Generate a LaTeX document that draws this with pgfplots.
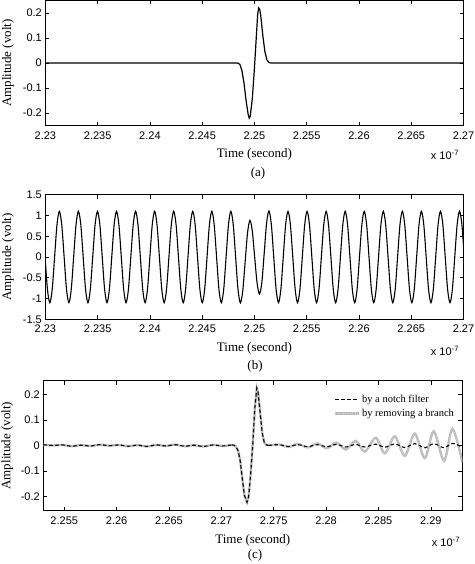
\documentclass[border=0pt]{standalone}
\usepackage{fontspec}
\setmainfont{Liberation Serif}
\newfontfamily\ticksfont{Liberation Sans}
\usepackage{pgfplots}
\pgfplotsset{compat=1.18}
\tikzset{
  greyline/.style={gray!55, line width=2.3pt},
  greytex/.style={white!75!gray, line width=0.7pt, dash pattern=on 0.8pt off 1.6pt},
  notch/.style={black, line width=1.1pt, dash pattern=on 3.5pt off 2.5pt},
}
\pgfplotsset{
  panel/.style={
    scale only axis, anchor=south west,
    tick label style={font=\fontsize{11}{11}\selectfont\ticksfont},
    /pgf/number format/assume math mode=true,
    scaled ticks=false,
    xticklabel style={/pgf/number format/.cd, fixed, precision=3, /tikz/.cd, yshift=-2.5pt},
    yticklabel style={/pgf/number format/.cd, fixed, precision=2},
    label style={font=\fontsize{13}{13}\selectfont},
    xlabel={Time (second)}, ylabel={Amplitude (volt)},
    xlabel style={anchor=center},
    ylabel style={anchor=center, rotate=0},
    axis line style={line width=0.6pt},
    tick style={line width=0.6pt, black},
    major tick length=4pt,
  },
}
\begin{document}
\begin{tikzpicture}
\useasboundingbox (0,0) rectangle (474pt,564pt);
% ---------------- (a)
\begin{axis}[panel, at={(45.4pt,438.3pt)}, width=418.1pt, height=125.3pt,
  xmin=2.23, xmax=2.27, ymin=-0.25, ymax=0.25,
  xtick={2.23,2.235,2.24,2.245,2.25,2.255,2.26,2.265,2.27},
  ytick={-0.2,-0.1,0,0.1,0.2},
  xlabel style={at={(axis description cs:0.5,-0.231)}},
  ylabel style={at={(axis description cs:-0.0895,0.5)}}]
\addplot[black, line width=1.2pt] coordinates {
(2.23,0)(2.2484,0)(2.2486,-0.005)(2.2488,-0.03)(2.2490,-0.08)(2.2492,-0.15)(2.2494,-0.205)(2.2495,-0.22)(2.2496,-0.212)(2.2498,-0.14)(2.2500,-0.02)(2.2502,0.12)(2.2503,0.19)(2.2504,0.22)(2.2505,0.215)(2.2506,0.19)(2.2508,0.11)(2.2510,0.045)(2.2512,0.012)(2.2514,0.002)(2.2516,0)(2.27,0)};
\end{axis}
\node[font=\fontsize{13}{13}\selectfont] at (258pt,391pt) {(a)};
\node[font=\fontsize{11}{11}\selectfont\ticksfont] at (445pt,409pt) {x 10\textsuperscript{-7}};
% ---------------- (b)
\begin{axis}[panel, at={(45.4pt,244.7pt)}, width=418.1pt, height=124.6pt,
  xmin=2.23, xmax=2.27, ymin=-1.5, ymax=1.5,
  xtick={2.23,2.235,2.24,2.245,2.25,2.255,2.26,2.265,2.27},
  ytick={-1.5,-1,-0.5,0,0.5,1,1.5},
  xticklabel style={yshift=1pt},
  xlabel style={at={(axis description cs:0.5,-0.230)}},
  ylabel style={at={(axis description cs:-0.0895,0.5)}}]
\addplot[black, line width=1.1pt, smooth] coordinates {
(2.229969,0)(2.230196,-0.778)(2.230424,-1.1)(2.230652,-0.778)
(2.230880,0)(2.231108,0.778)(2.231336,1.1)(2.231564,0.778)(2.231792,0)(2.232019,-0.778)(2.232247,-1.1)(2.232475,-0.778)
(2.232703,0)(2.232931,0.778)(2.233159,1.1)(2.233387,0.778)(2.233615,0)(2.233842,-0.778)(2.234070,-1.1)(2.234298,-0.778)
(2.234526,0)(2.234754,0.778)(2.234982,1.1)(2.235210,0.778)(2.235438,0)(2.235665,-0.778)(2.235893,-1.1)(2.236121,-0.778)
(2.236349,0)(2.236577,0.778)(2.236805,1.1)(2.237033,0.778)(2.237261,0)(2.237488,-0.778)(2.237716,-1.1)(2.237944,-0.778)
(2.238172,0)(2.238400,0.778)(2.238628,1.1)(2.238856,0.778)(2.239084,0)(2.239311,-0.778)(2.239539,-1.1)(2.239767,-0.778)
(2.239995,0)(2.240223,0.778)(2.240451,1.1)(2.240679,0.778)(2.240907,0)(2.241134,-0.778)(2.241362,-1.1)(2.241590,-0.778)
(2.241818,0)(2.242046,0.778)(2.242274,1.1)(2.242502,0.778)(2.242730,0)(2.242957,-0.778)(2.243185,-1.1)(2.243413,-0.778)
(2.243641,0)(2.243869,0.778)(2.244097,1.1)(2.244325,0.778)(2.244553,0)(2.244780,-0.778)(2.245008,-1.1)(2.245236,-0.778)
(2.245464,0)(2.245692,0.778)(2.245920,1.1)(2.246148,0.778)(2.246376,0)(2.246603,-0.778)(2.246831,-1.1)(2.247059,-0.778)
(2.247287,0)(2.247515,0.778)(2.247743,1.1)(2.247971,0.778)(2.248199,0)(2.248426,-0.78)(2.248654,-1.105)(2.248882,-0.813)
(2.249110,-0.118)(2.249338,0.578)(2.249566,0.882)(2.249794,0.628)(2.250022,-0.006)(2.250249,-0.618)(2.250477,-0.89)(2.250705,-0.618)
(2.250933,0.09)(2.251161,0.813)(2.251389,1.11)(2.251617,0.78)(2.251845,0)(2.252072,-0.778)(2.252300,-1.1)(2.252528,-0.778)
(2.252756,0)(2.252984,0.778)(2.253212,1.1)(2.253440,0.778)(2.253668,0)(2.253895,-0.778)(2.254123,-1.1)(2.254351,-0.778)
(2.254579,0)(2.254807,0.778)(2.255035,1.1)(2.255263,0.778)(2.255491,0)(2.255718,-0.778)(2.255946,-1.1)(2.256174,-0.778)
(2.256402,0)(2.256630,0.778)(2.256858,1.1)(2.257086,0.778)(2.257314,0)(2.257541,-0.778)(2.257769,-1.1)(2.257997,-0.778)
(2.258225,0)(2.258453,0.778)(2.258681,1.1)(2.258909,0.778)(2.259137,0)(2.259364,-0.778)(2.259592,-1.1)(2.259820,-0.778)
(2.260048,0)(2.260276,0.778)(2.260504,1.1)(2.260732,0.778)(2.260960,0)(2.261187,-0.778)(2.261415,-1.1)(2.261643,-0.778)
(2.261871,0)(2.262099,0.778)(2.262327,1.1)(2.262555,0.778)(2.262783,0)(2.263010,-0.778)(2.263238,-1.1)(2.263466,-0.778)
(2.263694,0)(2.263922,0.778)(2.264150,1.1)(2.264378,0.778)(2.264606,0)(2.264833,-0.778)(2.265061,-1.1)(2.265289,-0.778)
(2.265517,0)(2.265745,0.778)(2.265973,1.1)(2.266201,0.778)(2.266429,0)(2.266656,-0.778)(2.266884,-1.1)(2.267112,-0.778)
(2.267340,0)(2.267568,0.778)(2.267796,1.1)(2.268024,0.778)(2.268252,0)(2.268479,-0.778)(2.268707,-1.1)(2.268935,-0.778)
(2.269163,0)(2.269391,0.778)(2.269619,1.1)(2.269847,0.778)(2.270075,0)};
\end{axis}
\node[font=\fontsize{13}{13}\selectfont] at (255pt,198pt) {(b)};
\node[font=\fontsize{11}{11}\selectfont\ticksfont] at (445pt,213.3pt) {x 10\textsuperscript{-7}};
% ---------------- (c)
\begin{axis}[panel, at={(43.3pt,53.3pt)}, width=419pt, height=130pt,
  xmin=2.253, xmax=2.293, ymin=-0.255, ymax=0.255,
  xtick={2.255,2.26,2.265,2.27,2.275,2.28,2.285,2.29},
  ytick={-0.2,-0.1,0,0.1,0.2},
  xlabel style={at={(axis description cs:0.5,-0.228)}},
  ylabel style={at={(axis description cs:-0.086,0.5)}},
  legend image code/.code={\draw[#1] (0pt,0pt) -- (24pt,0pt);},
  legend style={at={(axis description cs:0.694,0.905)}, anchor=north west, draw=none, fill=none,
    inner sep=0pt, row sep=2.5pt, nodes={inner sep=1.5pt}, font=\fontsize{10.5}{12}\selectfont},
  legend cell align=left]
% grey: by removing a branch
\addplot[greyline, smooth, forget plot] coordinates {
(2.2530,0.004)(2.2539,0.001)(2.2548,0.003)(2.2557,-0.002)(2.2566,0.002)(2.2575,-0.001)(2.2584,0.004)(2.2593,0.000)(2.2602,0.003)(2.2611,-0.002)(2.2620,0.002)(2.2629,-0.003)(2.2638,0.003)(2.2647,-0.001)(2.2656,0.004)(2.2665,-0.002)(2.2674,0.002)(2.2683,-0.003)(2.2692,0.003)(2.2701,-0.001)(2.2710,0.003)};
\addplot[greyline, forget plot] coordinates {
(2.2710,0.003)(2.2712,0.002)(2.2714,-0.004)(2.2716,-0.02)(2.2718,-0.06)(2.2720,-0.13)(2.2722,-0.195)(2.27245,-0.222)(2.2726,-0.2)(2.2728,-0.11)(2.2730,0.01)(2.2732,0.15)(2.27338,0.226)(2.2735,0.21)(2.2737,0.13)(2.2739,0.05)(2.2741,0.012)(2.2743,0.003)(2.2745,0.001)};
\addplot[greyline, smooth, forget plot] coordinates {
(2.2745,0.001)(2.27548,0.005)(2.27644,-0.005)(2.27730,0.007)(2.27825,-0.007)(2.27916,0.009)(2.28007,-0.01)(2.28099,0.012)(2.28188,-0.015)(2.28283,0.019)(2.28369,-0.023)(2.28474,0.031)(2.28560,-0.030)(2.28655,0.037)(2.28751,-0.040)(2.28846,0.048)(2.28942,-0.049)(2.29027,0.057)(2.29126,-0.059)(2.29206,0.066)(2.29302,-0.066)};
\addplot[greytex, smooth, forget plot] coordinates {
(2.2745,0.001)(2.27548,0.005)(2.27644,-0.005)(2.27730,0.007)(2.27825,-0.007)(2.27916,0.009)(2.28007,-0.01)(2.28099,0.012)(2.28188,-0.015)(2.28283,0.019)(2.28369,-0.023)(2.28474,0.031)(2.28560,-0.030)(2.28655,0.037)(2.28751,-0.040)(2.28846,0.048)(2.28942,-0.049)(2.29027,0.057)(2.29126,-0.059)(2.29206,0.066)(2.29302,-0.066)};
% black dashed: by a notch filter
\addplot[notch, smooth, forget plot] coordinates {
(2.2530,0.004)(2.2539,0.001)(2.2548,0.003)(2.2557,-0.002)(2.2566,0.002)(2.2575,-0.001)(2.2584,0.004)(2.2593,0.000)(2.2602,0.003)(2.2611,-0.002)(2.2620,0.002)(2.2629,-0.003)(2.2638,0.003)(2.2647,-0.001)(2.2656,0.004)(2.2665,-0.002)(2.2674,0.002)(2.2683,-0.003)(2.2692,0.003)(2.2701,-0.001)(2.2710,0.003)};
\addplot[notch, forget plot] coordinates {
(2.2710,0.003)(2.2712,0.002)(2.2714,-0.004)(2.2716,-0.02)(2.2718,-0.06)(2.2720,-0.13)(2.2722,-0.195)(2.27245,-0.222)(2.2726,-0.2)(2.2728,-0.11)(2.2730,0.01)(2.2732,0.15)(2.27338,0.226)(2.2735,0.21)(2.2737,0.13)(2.2739,0.05)(2.2741,0.012)(2.2743,0.003)(2.2745,0.001)};
\addplot[notch, smooth, forget plot] coordinates {
(2.2745,0.001)(2.27548,0.004)(2.27644,-0.003)(2.27730,0.004)(2.27825,-0.004)(2.27916,0.004)(2.28007,-0.004)(2.28099,0.005)(2.28188,-0.005)(2.28283,0.005)(2.28369,-0.005)(2.28474,0.006)(2.28560,-0.006)(2.28655,0.007)(2.28751,-0.007)(2.28846,0.008)(2.28942,-0.008)(2.29027,0.008)(2.29126,-0.008)(2.29206,0.009)(2.29302,-0.006)};
\addlegendimage{notch}
\addlegendentry{by a notch filter}
\addlegendimage{legend image code/.code={\draw[greyline] (0pt,0pt) -- (24pt,0pt); \draw[greytex] (0pt,0pt) -- (24pt,0pt);}}
\addlegendentry{by removing a branch}
\end{axis}
\node[font=\fontsize{13}{13}\selectfont] at (255pt,8.5pt) {(c)};
\node[font=\fontsize{11}{11}\selectfont\ticksfont] at (446pt,22.3pt) {x 10\textsuperscript{-7}};
\end{tikzpicture}
\end{document}
